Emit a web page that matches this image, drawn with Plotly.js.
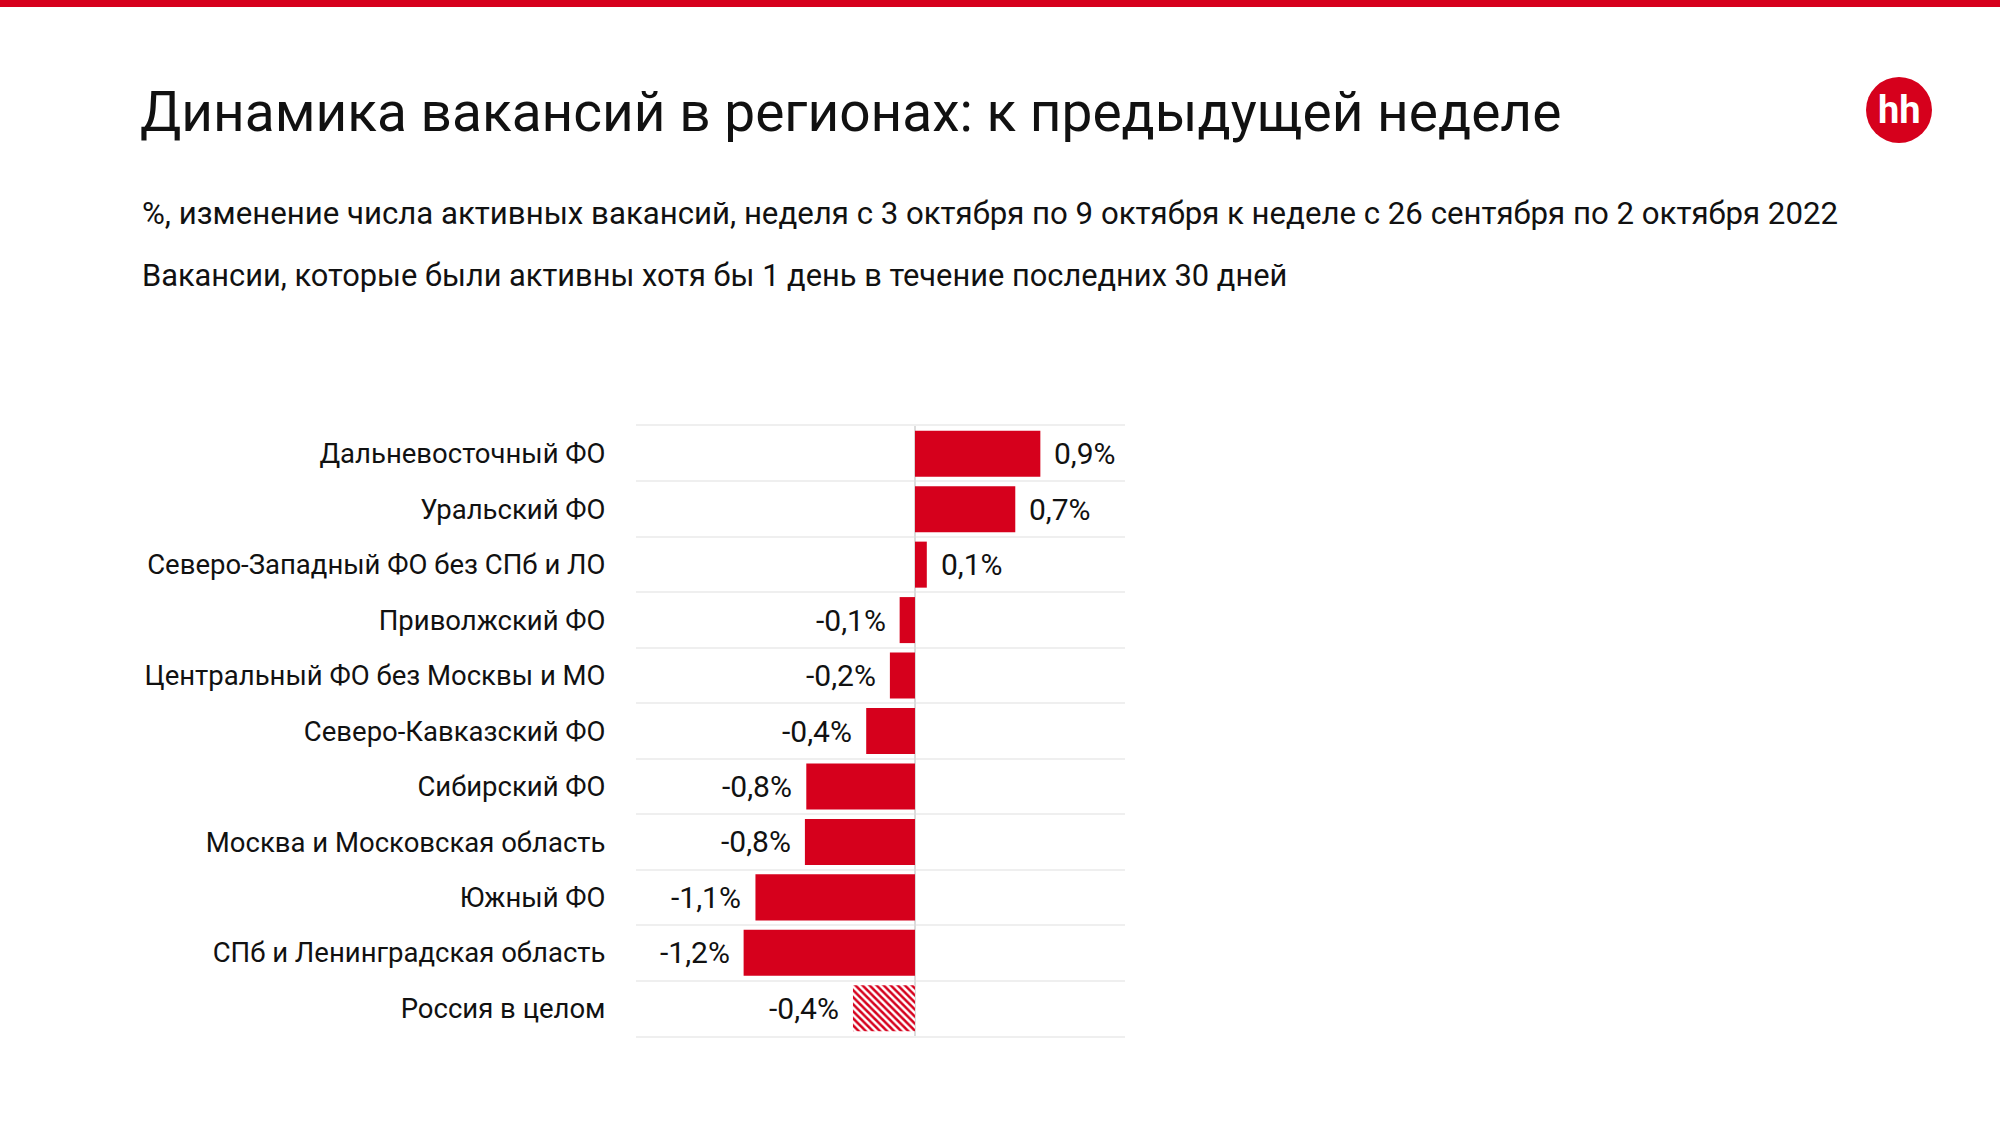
<!DOCTYPE html>
<html>
<head>
<meta charset="utf-8">
<script src="https://cdn.plot.ly/plotly-3.0.1.min.js"></script>
<style>html,body{margin:0;padding:0;background:#fff}#chart{width:2000px;height:1125px}</style>
</head>
<body>
<div id="chart"></div>
<script>
const regions = [
  'Дальневосточный ФО',
  'Уральский ФО',
  'Северо-Западный ФО без СПб и ЛО',
  'Приволжский ФО',
  'Центральный ФО без Москвы и МО',
  'Северо-Кавказский ФО',
  'Сибирский ФО',
  'Москва и Московская область',
  'Южный ФО',
  'СПб и Ленинградская область',
  'Россия в целом'
];
const values = [0.9, 0.72, 0.085, -0.11, -0.18, -0.35, -0.78, -0.79, -1.145, -1.23, -0.445];
const valueLabels = ['0,9%', '0,7%', '0,1%', '-0,1%', '-0,2%', '-0,4%', '-0,8%', '-0,8%', '-1,1%', '-1,2%', '-0,4%'];
const hatched = [false, false, false, false, false, false, false, false, false, false, true];

const titleText = 'Динамика вакансий в регионах: к предыдущей неделе';
const subtitle1 = '%, изменение числа активных вакансий, неделя с 3 октября по 9 октября к неделе с 26 сентября по 2 октября 2022';
const subtitle2 = 'Вакансии, которые были активны хотя бы 1 день в течение последних 30 дней';

const W = 2000, H = 1125;
const px = x => x / W;
const py = y => 1 - y / H;
const RED = '#D6001C';
const FONT = 'Roboto, "Noto Sans", sans-serif';
const TXT = '#111111';

const trace = {
  type: 'bar',
  orientation: 'h',
  y: regions,
  x: values,
  hoverinfo: 'skip',
  marker: {
    color: RED,
    line: {width: 0},
    pattern: {
      shape: hatched.map(h => h ? '\\' : ''),
      fgcolor: RED,
      bgcolor: '#ffffff',
      size: 5,
      solidity: 0.5
    }
  }
};

const labelAnnotations = values.map((v, i) => ({
  x: v, y: regions[i], xref: 'x', yref: 'y',
  text: valueLabels[i],
  showarrow: false,
  xanchor: v >= 0 ? 'left' : 'right',
  xshift: v >= 0 ? 12 : -12,
  yanchor: 'middle',
  font: {family: FONT, size: 30, color: TXT}
}));

const layout = {
  width: W, height: H,
  margin: {l: 0, r: 0, t: 0, b: 0},
  paper_bgcolor: '#ffffff',
  plot_bgcolor: '#ffffff',
  showlegend: false,
  bargap: 0.17,
  title: {
    text: titleText,
    x: px(140), xref: 'container', xanchor: 'left',
    y: py(112), yref: 'container', yanchor: 'middle',
    font: {family: FONT, size: 55, color: TXT}
  },
  xaxis: {
    domain: [px(635.5), px(1124.5)],
    range: [-2.006, 1.504],
    showgrid: false,
    zeroline: true, zerolinecolor: '#dcdcdc', zerolinewidth: 2,
    showticklabels: false, ticks: '',
    showline: true, mirror: true, linecolor: '#efefef', linewidth: 2,
    fixedrange: true
  },
  yaxis: {
    domain: [py(1036), py(426)],
    type: 'category',
    autorange: 'reversed',
    tickson: 'boundaries',
    showgrid: true, gridcolor: '#efefef', gridwidth: 2,
    ticks: '',
    ticklabelstandoff: 29,
    tickfont: {family: FONT, size: 27.5, color: TXT},
    zeroline: false, showline: false,
    fixedrange: true
  },
  shapes: [
    {type: 'rect', xref: 'paper', yref: 'paper', x0: 0, x1: 1, y0: py(7), y1: 1,
     fillcolor: RED, line: {width: 0}, layer: 'above'},
    {type: 'circle', xref: 'paper', yref: 'paper', x0: px(1866), x1: px(1932), y0: py(143), y1: py(77),
     fillcolor: RED, line: {width: 0}, layer: 'above'}
  ],
  annotations: [
    {x: px(140), y: py(214), xref: 'paper', yref: 'paper', xanchor: 'left', yanchor: 'middle',
     text: subtitle1, showarrow: false, font: {family: FONT, size: 31.2, color: TXT}},
    {x: px(140), y: py(275), xref: 'paper', yref: 'paper', xanchor: 'left', yanchor: 'middle',
     text: subtitle2, showarrow: false, font: {family: FONT, size: 30.8, color: TXT}},
    {x: px(1899), y: py(110), xref: 'paper', yref: 'paper', xanchor: 'center', yanchor: 'middle',
     text: 'hh', showarrow: false, font: {family: FONT, size: 38, color: '#ffffff', weight: 'bold'}}
  ].concat(labelAnnotations)
};

Plotly.newPlot('chart', [trace], layout, {staticPlot: true, displayModeBar: false});
</script>
</body>
</html>
